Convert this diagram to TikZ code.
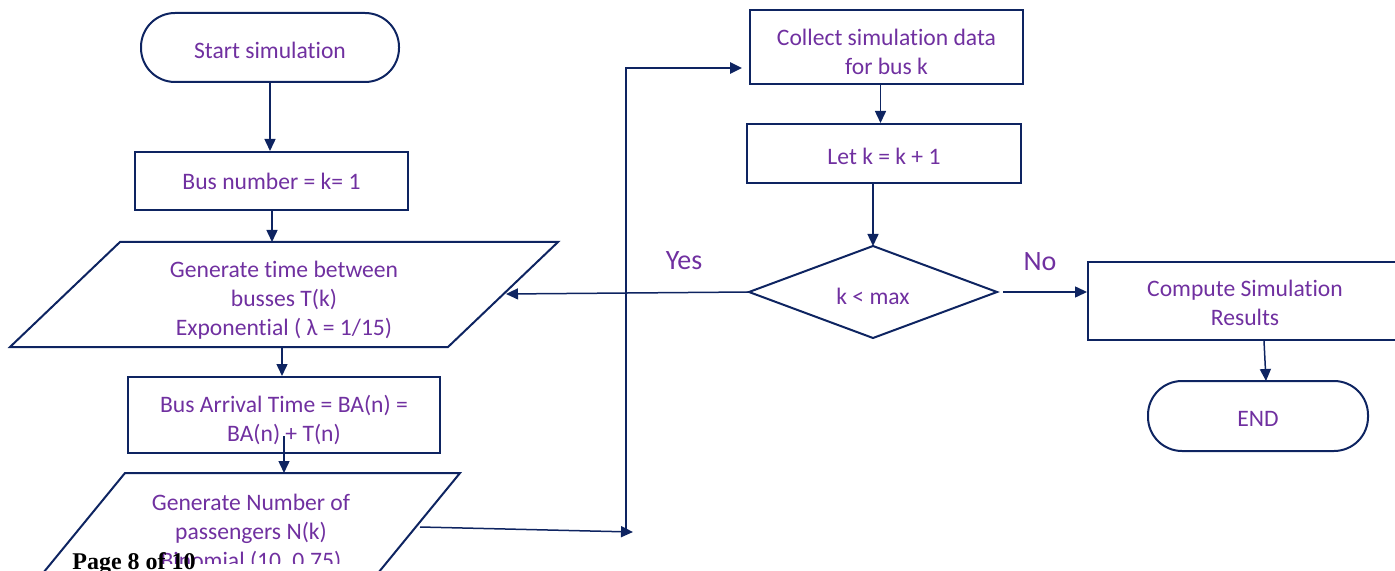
\documentclass[tikz,border=0pt]{standalone}
\usepackage{fontspec}
\setmainfont{Carlito}[Ligatures=NoCommon]
\newfontfamily\pagefont{Liberation Serif}
\usetikzlibrary{arrows.meta}
\definecolor{navy}{HTML}{0E2461}
\definecolor{txt}{HTML}{7030A0}
\begin{document}
\begin{tikzpicture}[x=0.5pt,y=-0.5pt,
  lbl/.style={text=txt, align=center, font=\fontsize{11.8}{14.5}\selectfont, inner sep=0pt},
  procbox/.style={lbl, draw=navy, line width=1pt, rectangle},
  term/.style={lbl, draw=navy, line width=1pt, rectangle, rounded corners=17pt},
  tdown/.style={execute at begin node={\rule{0pt}{\dimexpr 8.6pt+#1*2\relax}}},
  shapeline/.style={draw=navy, line width=1pt, line join=miter},
  conn/.style={draw=navy, line width=0.75pt, -{Triangle[length=6pt,width=5.5pt]}},
  thick conn/.style={draw=navy, line width=1.3pt, -{Triangle[length=6pt,width=5.5pt]}},
  yn/.style={text=txt, font=\fontsize{14}{16}\selectfont, inner sep=0pt}]
\useasboundingbox (0,0) rectangle (1395,571);
\clip (0,0) rectangle (1395,571);
% left column
\node[term, tdown=1pt, minimum width=129pt, minimum height=34.5pt] (start) at (270,47.5) {Start simulation};
\node[procbox, minimum width=136.5pt, minimum height=29pt] (bus) at (271.5,181) {Bus number = k= 1};
\draw[shapeline] (120,242) -- (558,242) -- (448,347) -- (10,347) -- cycle;
\node[lbl] (gen) at (284,300) {Generate time between\\busses T(k)\\Exponential ( λ = 1/15)};
\coordinate (genTop) at (272,242);
\coordinate (genBot) at (282,347);
\coordinate (genRight) at (506,294);
\node[procbox, minimum width=156pt, minimum height=38pt] (arr) at (284,415) {};
\node[lbl] (arrT) at (284,420) {Bus Arrival Time = BA(n) =\\BA(n) + T(n)};
\coordinate (arrIn) at (284,436);
\draw[shapeline] (125,473) -- (460,473) -- (374,578) -- (39,578) -- cycle;
\begin{scope}
\clip (0,0) rectangle (1395,563);
\node[lbl] (npas) at (251,533) {Generate Number of\\passengers N(k)\\Binomial (10, 0.75)};
\end{scope}
\coordinate (npTop) at (284,473);
\coordinate (npRight) at (420,527);
\node[anchor=base west, inner sep=0pt, font=\pagefont\bfseries\fontsize{12}{14}\selectfont] (page) at (72,569) {Page 8 of 10};
% bypass
\coordinate (byEnd) at (633,532);
\coordinate (byBot) at (626,532);
\coordinate (byTop) at (626,68);
\coordinate (byTip) at (742,68);
% right column
\node[procbox, minimum width=136.5pt, minimum height=37pt] (collect) at (886.5,47) {};
\node[lbl] (collectT) at (886.5,52) {Collect simulation data\\for bus k};
\node[procbox, tdown=1pt, minimum width=137pt, minimum height=29.5pt] (letk) at (884,153.5) {Let k = k + 1};
\coordinate (dTop) at (873,246);
\coordinate (dLeft) at (749,292);
\coordinate (dRight) at (997,292);
\coordinate (dBot) at (873,338);
\draw[shapeline] (dTop) -- (dRight) -- (dBot) -- (dLeft) -- cycle;
\node[lbl] (dec) at (873,296) {k < max};
\coordinate (noStart) at (1003,292);
\node[procbox, minimum width=157pt, minimum height=39pt] (comp) at (1245,301) {};
\node[lbl] (compT) at (1245,303) {Compute Simulation\\Results};
\node[term, tdown=1pt, minimum width=110pt, minimum height=35pt] (endn) at (1258,416) {END};
\node[yn] (yes) at (684,261) {Yes};
\node[yn] (no) at (1040,262) {No};
% connectors
\draw[conn] (start.south) -- (start.south |- bus.north);
\draw[conn] (genTop |- bus.south) -- (genTop);
\draw[conn] (genBot) -- (genBot |- arr.north);
\draw[conn] (arrIn) -- (npTop);
\draw[conn] (npRight) -- (byEnd);
\draw[thick conn] (byBot) -- (byTop) -- (byTip);
\draw[conn] ([xshift=-3pt]collect.south) -- ([xshift=-3pt]collect.south |- letk.north);
\draw[conn] (dTop |- letk.south) -- (dTop);
\draw[conn] (dLeft) -- (genRight);
\draw[conn] (noStart) -- (comp.west |- noStart);
\draw[conn] ([xshift=9.5pt]comp.south) -- (1266,381);
\end{tikzpicture}
\end{document}
